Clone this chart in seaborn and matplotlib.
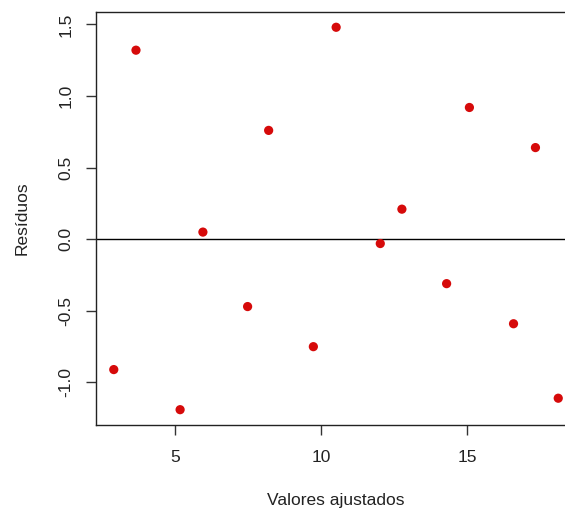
import matplotlib
matplotlib.use("Agg")
import matplotlib.pyplot as plt
import seaborn as sns
import pandas as pd

# Fitted values and residuals of the model
valores_ajustados = [2.91, 3.67, 5.18, 5.96, 7.49, 8.21, 9.74, 10.52,
                     12.03, 12.77, 14.30, 15.08, 16.59, 17.34, 18.12]
residuos = [-0.91, 1.32, -1.19, 0.05, -0.47, 0.76, -0.75, 1.48,
            -0.03, 0.21, -0.31, 0.92, -0.59, 0.64, -1.11]

x_ticks = [5, 10, 15]
y_ticks = [-1.0, -0.5, 0.0, 0.5, 1.0, 1.5]
y_tick_labels = ["-1.0", "-0.5", "0.0", "0.5", "1.0", "1.5"]

df = pd.DataFrame({"ajustados": valores_ajustados, "residuos": residuos})

sns.set_style("white")
plt.rcParams["font.family"] = ["Liberation Sans", "DejaVu Sans"]

fig = plt.figure(figsize=(5.65, 5.14), dpi=100)
ax = fig.add_axes([0.1699, 0.1732, 0.8496, 0.8035])

sns.scatterplot(data=df, x="ajustados", y="residuos", ax=ax,
                color="#D60A0A", s=44, edgecolor="none", zorder=3)
ax.axhline(0, color="black", lw=1.0, zorder=2)

# R-style 4% padding around the data range
xr = max(valores_ajustados) - min(valores_ajustados)
yr = max(residuos) - min(residuos)
ax.set_xlim(min(valores_ajustados) - 0.04 * xr, max(valores_ajustados) + 0.04 * xr)
ax.set_ylim(min(residuos) - 0.04 * yr, max(residuos) + 0.04 * yr)

ax.set_xticks(x_ticks)
ax.set_xticklabels([str(t) for t in x_ticks])
ax.set_yticks(y_ticks)
ax.set_yticklabels(y_tick_labels, rotation=90, va="center")

for sp in ax.spines.values():
    sp.set_visible(True)
    sp.set_color("#222222")
    sp.set_linewidth(1.0)

ax.tick_params(axis="both", which="major", direction="out", length=7.2,
               width=1.0, color="#333333", labelsize=12.5, labelcolor="#222222",
               bottom=True, left=True, top=False, right=False)
ax.tick_params(axis="x", pad=11)
ax.tick_params(axis="y", pad=9)

ax.set_xlabel("Valores ajustados", fontsize=12.5, color="#222222", labelpad=20)
ax.set_ylabel("Resíduos", fontsize=12.5, color="#222222", labelpad=21)

fig.savefig("out.png", dpi=100, facecolor="white")
